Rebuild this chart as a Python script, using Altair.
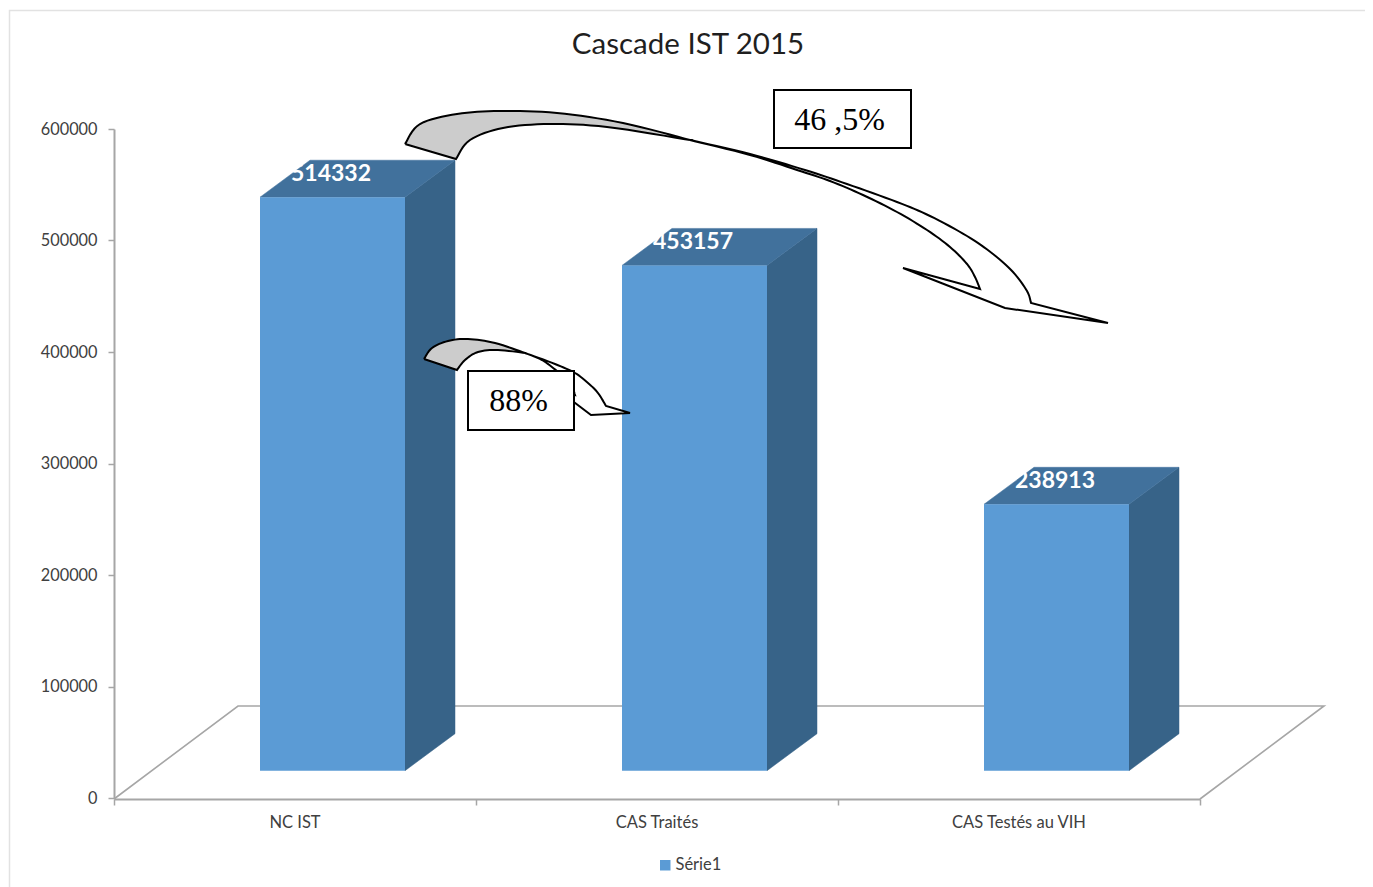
import altair as alt
import pandas as pd

# ---- chart values ----
categories = ["NC IST", "CAS Traités", "CAS Testés au VIH"]
values = [514332, 453157, 238913]
series_name = "Série1"
y_ticks = [0, 100000, 200000, 300000, 400000, 500000, 600000]
title_text = "Cascade IST 2015"
box_texts = ["46 ,5%", "88%"]

# ---- plot frame on the page ----
LEFT, TOP, W, H = 114, 129, 1086, 669
YMAX = 600000
UX = W / 3            # pixels per category slot
UY = H / YMAX         # pixels per value unit

def dx(px):
    return (px - LEFT) / UX

def dy(py):
    return (TOP + H - py) / UY

# 3D bar geometry in scale units
BAR_START = dx(260)
BAR_W = 145 / UX
DEPTH_X = 50 / UX
DEPTH_Y = 37 / UY
BASE = 24500

FRONT, SIDE, ROOF = "#5B9BD5", "#376388", "#41719C"
GREY = "#A6A6A6"

xs = alt.Scale(domain=[0, 3], nice=False, zero=False)
ys = alt.Scale(domain=[0, YMAX], nice=False)

XA = alt.Axis(values=[0, 1, 2, 3], labels=False, title=None, grid=False,
              tickSize=6, tickColor=GREY, domainColor=GREY, tickWidth=1.5,
              domainWidth=2, offset=1)
YA = alt.Axis(values=y_ticks, title=None, grid=False, tickSize=6,
              tickColor=GREY, domainColor=GREY, tickWidth=1.5, domainWidth=2,
              labelFont="Lato", labelFontSize=16.3, labelColor="#404040",
              labelPadding=11, format="d")


def smooth(pts, n=8):
    """Catmull-Rom outline through hand-read annotation anchors."""
    out = []
    p = [pts[0]] + list(pts) + [pts[-1]]
    for i in range(1, len(p) - 2):
        a, b, c, d = p[i - 1], p[i], p[i + 1], p[i + 2]
        for k in range(n):
            t = k / n
            out.append(tuple(
                0.5 * (2 * b[j] + (c[j] - a[j]) * t
                       + (2 * a[j] - 5 * b[j] + 4 * c[j] - d[j]) * t * t
                       + (3 * b[j] - a[j] - 3 * c[j] + d[j]) * t ** 3)
                for j in (0, 1)))
    out.append(pts[-1])
    return out


def path(points, fill=None, stroke=None, width=1.0):
    df = pd.DataFrame(points, columns=["x", "y"])
    df["o"] = range(len(df))
    kw = {"strokeWidth": width, "strokeJoin": "miter", "clip": False}
    if fill:
        kw["fill"] = fill
    kw["stroke"] = stroke if stroke else fill
    if not stroke:
        kw["strokeWidth"] = 0.5
    return alt.Chart(df).mark_line(**kw).encode(
        x=alt.X("x:Q", scale=xs, axis=XA),
        y=alt.Y("y:Q", scale=ys, axis=YA),
        order=alt.Order("o:Q"),
    )


def px_pts(lst):
    return [(dx(a), dy(b)) for a, b in lst]


layers = []

# floor of the 3D box
layers.append(path(px_pts([(114, 799), (238, 706), (1324, 706), (1200, 799)]),
                   stroke=GREY, width=1.6))

# page frame
layers.append(path(px_pts([(9.5, 887), (9.5, 10.5), (1366, 10.5)]), stroke="#E2E2E2", width=1.5))
layers.append(path(px_pts([(1367, 10.5), (1367, 887)]), stroke="#B0B0B0", width=1.5))

# bar side and roof faces
for i, v in enumerate(values):
    x0 = i + BAR_START
    x1 = x0 + BAR_W
    top = v + BASE
    layers.append(path([(x1, BASE), (x1 + DEPTH_X, BASE + DEPTH_Y),
                        (x1 + DEPTH_X, top + DEPTH_Y), (x1, top), (x1, BASE)], fill=SIDE))
    layers.append(path([(x0, top), (x0 + DEPTH_X, top + DEPTH_Y),
                        (x1 + DEPTH_X, top + DEPTH_Y), (x1, top), (x0, top)], fill=ROOF))

# bar fronts + legend
bars = pd.DataFrame({
    "cat": categories,
    "value": values,
    "series": [series_name] * 3,
    "x0": [i + BAR_START for i in range(3)],
    "x1": [i + BAR_START + BAR_W for i in range(3)],
    "lab_x": [i + BAR_START + 71 / UX for i in range(3)],
    "mid": [i + 0.5 for i in range(3)],
})
bars["top"] = bars["value"] + BASE
bars["bot"] = BASE
bars["lab_y"] = bars["top"] + 23.5 / UY
bars["label"] = bars["value"].astype(str)

layers.append(alt.Chart(bars).mark_rect().encode(
    x=alt.X("x0:Q", scale=xs, axis=XA),
    x2="x1:Q",
    y=alt.Y("bot:Q", scale=ys, axis=YA),
    y2="top:Q",
    color=alt.Color("series:N", scale=alt.Scale(domain=[series_name], range=[FRONT]),
                    legend=alt.Legend(title=None, orient="none", legendX=543, legendY=728,
                                      symbolType="square", symbolSize=110, symbolStrokeWidth=0,
                                      labelFont="Lato", labelFontSize=16.5, labelColor="#404040",
                                      labelOffset=2)),
))

# data labels
layers.append(alt.Chart(bars).mark_text(font="Lato", fontSize=23, fontWeight="bold",
                                        color="white", baseline="middle").encode(
    x=alt.X("lab_x:Q", scale=xs, axis=XA),
    y=alt.Y("lab_y:Q", scale=ys, axis=YA),
    text="label:N",
))

# category labels
layers.append(alt.Chart(bars).mark_text(font="Lato", fontSize=16.5, color="#404040",
                                        baseline="middle").encode(
    x=alt.X("mid:Q", scale=xs, axis=XA),
    y=alt.value(694),
    text="cat:N",
))

# big curved arrow
big_outer_a = [(405, 144), (420, 124), (457, 114), (500, 111), (557, 113), (623, 123), (690, 140)]
big_inner_a = [(690, 140), (607, 127), (550, 124), (503, 128), (470, 140), (456, 159)]
big_outer_b = [(690, 140), (750, 154), (805, 170), (847, 184), (897, 202), (930, 216), (967, 236), (993, 254), (1013, 272), (1027, 291), (1031, 303)]
big_inner_b = [(980, 289), (975, 277), (967, 264), (950, 247), (927, 230), (897, 212), (863, 195), (830, 181), (797, 170), (750, 155), (690, 140)]
ribbon = smooth(big_outer_a) + smooth(big_inner_a)[1:] + [(405, 144)]
head = smooth(big_outer_b) + [(1108, 323), (1005, 308), (903, 268)] + smooth(big_inner_b)
layers.append(path(px_pts(head), fill="white", stroke="black", width=2))
layers.append(path(px_pts(ribbon), fill="#CCCCCC", stroke="black", width=2))

# small curved arrow
small_outer_a = [(424, 359), (432, 348), (448, 341), (468, 339), (495, 343), (525, 353)]
small_inner_a = [(525, 353), (498, 350), (478, 352), (465, 360), (457, 370)]
small_outer_b = [(525, 353), (555, 364), (575, 373), (588, 383), (598, 393), (606, 406)]
small_inner_b = [(575, 395), (570, 382), (557, 371), (542, 360), (525, 353)]
ribbon2 = smooth(small_outer_a) + smooth(small_inner_a)[1:] + [(424, 359)]
head2 = smooth(small_outer_b) + [(630, 413), (591, 415), (558, 390)] + smooth(small_inner_b)
layers.append(path(px_pts(head2), fill="white", stroke="black", width=2))
layers.append(path(px_pts(ribbon2), fill="#CCCCCC", stroke="black", width=2))

# text boxes
boxes = pd.DataFrame({
    "text": box_texts,
    "x0": [dx(774), dx(468)],
    "x1": [dx(911), dx(574)],
    "y0": [dy(148), dy(430)],
    "y1": [dy(90), dy(371)],
    "cx": [dx(839.5), dx(518.5)],
    "cy": [dy(120), dy(401)],
})
layers.append(alt.Chart(boxes).mark_rect(fill="white", stroke="black", strokeWidth=2).encode(
    x=alt.X("x0:Q", scale=xs, axis=XA),
    x2="x1:Q",
    y=alt.Y("y0:Q", scale=ys, axis=YA),
    y2="y1:Q",
))
layers.append(alt.Chart(boxes).mark_text(font="Liberation Serif", fontSize=32, color="black",
                                         baseline="middle").encode(
    x=alt.X("cx:Q", scale=xs, axis=XA),
    y=alt.Y("cy:Q", scale=ys, axis=YA),
    text="text:N",
))

chart = alt.layer(*layers).properties(
    width=W,
    height=H,
    title=alt.TitleParams(title_text, anchor="middle", dx=31, dy=53, offset=0,
                          font="Lato", fontSize=29.5, fontWeight="normal", color="#1F1F1F"),
    padding={"left": LEFT - 8, "top": TOP - 8, "right": 1365 - LEFT - W, "bottom": 887 - TOP - H},
    autosize=alt.AutoSizeParams(type="none"),
).configure_view(stroke=None)

chart.save("out.html", embed_options={"renderer": "svg", "actions": False})
